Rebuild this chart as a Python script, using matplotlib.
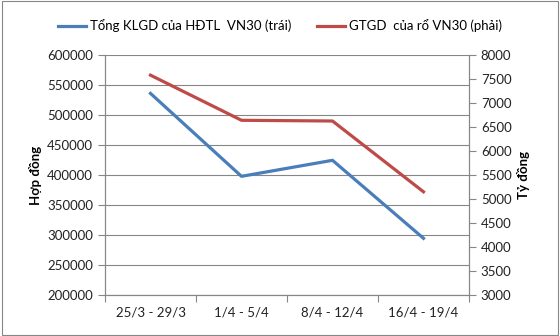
import matplotlib
matplotlib.use("Agg")
import matplotlib.pyplot as plt
from matplotlib.ticker import FixedLocator, NullFormatter
from matplotlib.patches import Rectangle

# data
weeks = ["25/3 - 29/3", "1/4 - 5/4", "8/4 - 12/4", "16/4 - 19/4"]
klgd_hdtl = [536000, 397800, 424500, 294500]   # hợp đồng (left axis)
gtgd_ro = [7580, 6640, 6625, 5150]             # tỷ đồng (right axis)

left_ticks = list(range(200000, 600001, 50000))
right_ticks = list(range(3000, 8001, 500))

plt.rcParams["font.family"] = ["Lato", "DejaVu Sans"]
grey = "#868686"
blue = "#4A7EBB"
red = "#BE4B48"

fig = plt.figure(figsize=(5.6, 3.36), dpi=100)
ax = fig.add_axes([0.1875, 0.122, 0.65, 0.7143])
ax2 = ax.twinx()

x = range(len(weeks))
l1, = ax.plot(x, klgd_hdtl, color=blue, lw=2.3, label="Tổng KLGD của HĐTL  VN30 (trái)")
l2, = ax2.plot(x, gtgd_ro, color=red, lw=2.3, label="GTGD  của rổ VN30 (phải)")

ax.set_xlim(-0.5, len(weeks) - 0.5)
ax.set_ylim(200000, 600000)
ax2.set_ylim(3000, 8000)
ax.set_yticks(left_ticks)
ax2.set_yticks(right_ticks)
ax.set_yticklabels([str(v) for v in left_ticks])
ax2.set_yticklabels([str(v) for v in right_ticks])

# categories centred, ticks on boundaries
ax.xaxis.set_major_locator(FixedLocator([i - 0.5 for i in range(len(weeks) + 1)]))
ax.xaxis.set_major_formatter(NullFormatter())
ax.xaxis.set_minor_locator(FixedLocator(list(x)))
ax.set_xticklabels(weeks, minor=True)
ax.tick_params(axis="x", which="minor", length=0, pad=8)
ax.tick_params(axis="x", which="major", length=5, color=grey)

ax.grid(axis="y", color=grey, lw=0.8)
ax.set_axisbelow(True)

for a in (ax, ax2):
    a.spines["top"].set_visible(False)
    for s in ("left", "right", "bottom"):
        a.spines[s].set_color(grey)
        a.spines[s].set_linewidth(0.8)
    a.tick_params(axis="y", length=5, color=grey, labelsize=9.5, labelcolor="#222222")
    a.tick_params(axis="x", labelsize=9.5, labelcolor="#222222", which="both")

ax.set_ylabel("Hợp đồng", fontsize=9.5, fontweight="bold", labelpad=4)
ax2.set_ylabel("Tỷ đồng", fontsize=9.5, fontweight="bold", labelpad=4)

fig.legend(handles=[l1, l2], loc="center", bbox_to_anchor=(0.5, 0.923),
           ncol=2, frameon=False, fontsize=9.5, handlelength=2.1,
           columnspacing=2.0, handletextpad=0.3)

fig.patches.append(Rectangle((0.004, 0.004), 0.992, 0.992, transform=fig.transFigure,
                             fill=False, edgecolor=grey, lw=0.8))

fig.savefig("out.png", dpi=100)
